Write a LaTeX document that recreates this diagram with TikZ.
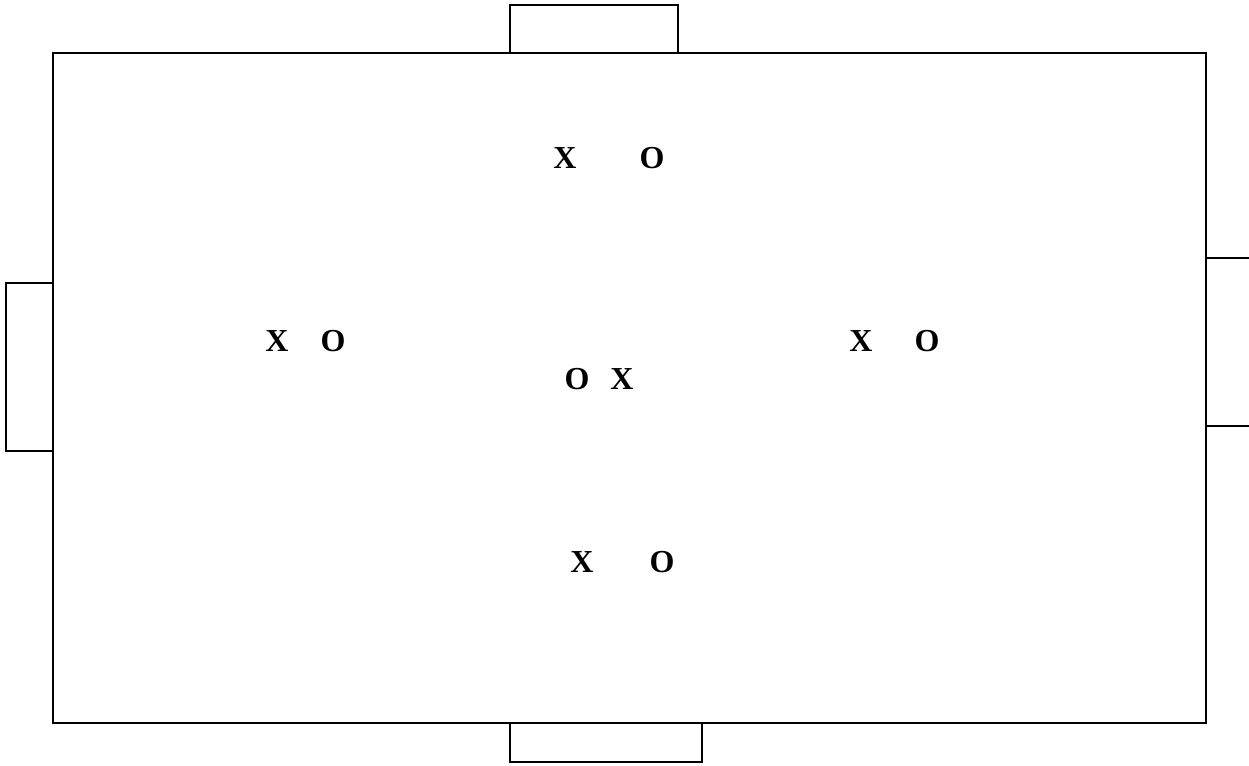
\documentclass[tikz,border=0pt]{standalone}
\usepackage{fontspec}
\setmainfont{Liberation Serif}
\usetikzlibrary{positioning}
\tikzset{
  fieldline/.style={line width=2pt,black},
  goalline/.style={line width=1.6pt,black},
  player/.style={font=\fontsize{32}{38}\selectfont\bfseries,inner sep=0pt}
}
\begin{document}
\begin{tikzpicture}[x=1pt,y=-1pt]
  \useasboundingbox (0,0) rectangle (1249,765);
  % field
  \draw[fieldline] (53,53) rectangle (1206,723);
  % goals
  \draw[goalline] (510,53) -- (510,5) -- (678,5) -- (678,53);
  \draw[goalline] (510,723) -- (510,762) -- (702,762) -- (702,723);
  \draw[goalline] (53,283) -- (6,283) -- (6,451) -- (53,451);
  \draw[goalline] (1206,258) -- (1249,258);
  \draw[goalline] (1206,426) -- (1249,426);
  % players
  \node[player] (topx) at (565,158) {X};
  \node[player] (topo) at (652,158) {O};
  \node[player] (leftx) at (277,341) {X};
  \node[player] (lefto) at (333,341) {O};
  \node[player] (rightx) at (861,341) {X};
  \node[player] (righto) at (927,341) {O};
  \node[player] (midx) at (622,379) {X};
  \node[player] (mido) at (577,379) {O};
  \node[player] (botx) at (582,562) {X};
  \node[player] (boto) at (662,562) {O};
\end{tikzpicture}
\end{document}
